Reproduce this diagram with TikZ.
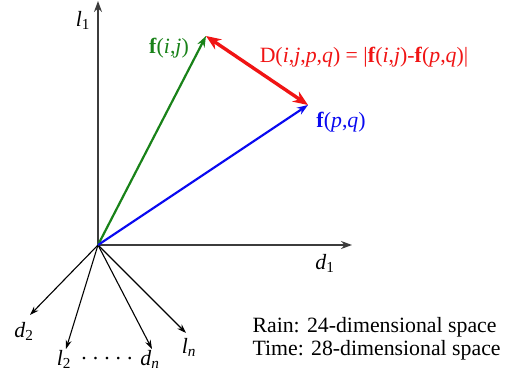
\documentclass[tikz,border=0pt]{standalone}
\usepackage{fontspec}
\setmainfont{Liberation Serif}
\usetikzlibrary{arrows.meta}
\definecolor{vgreen}{RGB}{25,130,25}
\definecolor{vblue}{RGB}{10,10,240}
\definecolor{vred}{RGB}{240,20,20}
\definecolor{axisgray}{RGB}{60,60,60}
\newcommand{\sub}[2]{\textit{#1}\textsubscript{#2}}
\tikzset{
  axis/.style={line width=1.8pt, draw=axisgray, -{Stealth[length=11pt,width=8pt]}},
  vec/.style={line width=2.2pt, -{Stealth[length=11pt,width=8pt]}},
  dim/.style={line width=1.1pt, -{Stealth[length=9pt,width=6pt]}},
}
\begin{document}
\begin{tikzpicture}[x=1pt,y=1pt,font=\fontsize{21.8}{24}\selectfont]
\useasboundingbox (0,0) rectangle (506,372);
\coordinate (O) at (98,127);
\coordinate (L1) at (98,371);
\coordinate (D1) at (352,127);
\coordinate (Fij) at (206,336);
\coordinate (Fpq) at (308,267);
\coordinate (D2) at (30,57);
\coordinate (L2) at (66,23);
\coordinate (Dn) at (152,23);
\coordinate (Ln) at (186,39);

% axes
\draw[axis] (O)--(L1);
\draw[axis] (O)--(D1);
\node (l1) at (83,352) {\sub{l}{1}};
\node (d1) at (325,109) {\sub{d}{1}};

% remaining dimensions
\draw[dim] (O)--(D2);
\draw[dim] (O)--(L2);
\draw[dim] (O)--(Dn);
\draw[dim] (O)--(Ln);
\node (d2) at (24,41) {\sub{d}{2}};
\node (l2) at (64,13) {\sub{l}{2}};
\node (dots) at (107,13) {.\hspace{6pt}.\hspace{6pt}.\hspace{6pt}.\hspace{6pt}.};
\node (dn) at (150,13) {\sub{d}{\textit{n}}};
\node (ln) at (189,25) {\sub{l}{\textit{n}}};

% feature vectors
\draw[vec, vgreen] (O)--(Fij);
\draw[vec, vblue] (O)--(Fpq);
\draw[line width=3.4pt, vred, {Stealth[length=15pt,width=12pt]}-{Stealth[length=15pt,width=12pt]}] (Fij)--(Fpq);
\node[vgreen] (fij) at (169,324) {\textbf{f}(\textit{i},\textit{j})};
\node[vblue] (fpq) at (341,250) {\textbf{f}(\textit{p},\textit{q})};
\node[vred] (dist) at (364,315) {D(\textit{i},\textit{j},\textit{p},\textit{q}) = |\textbf{f}(\textit{i},\textit{j})-\textbf{f}(\textit{p},\textit{q})|};

\node[anchor=west] (rain) at (249,45) {Rain: 24-dimensional space};
\node[anchor=west] (time) at (249,22) {Time: 28-dimensional space};
\end{tikzpicture}
\end{document}
